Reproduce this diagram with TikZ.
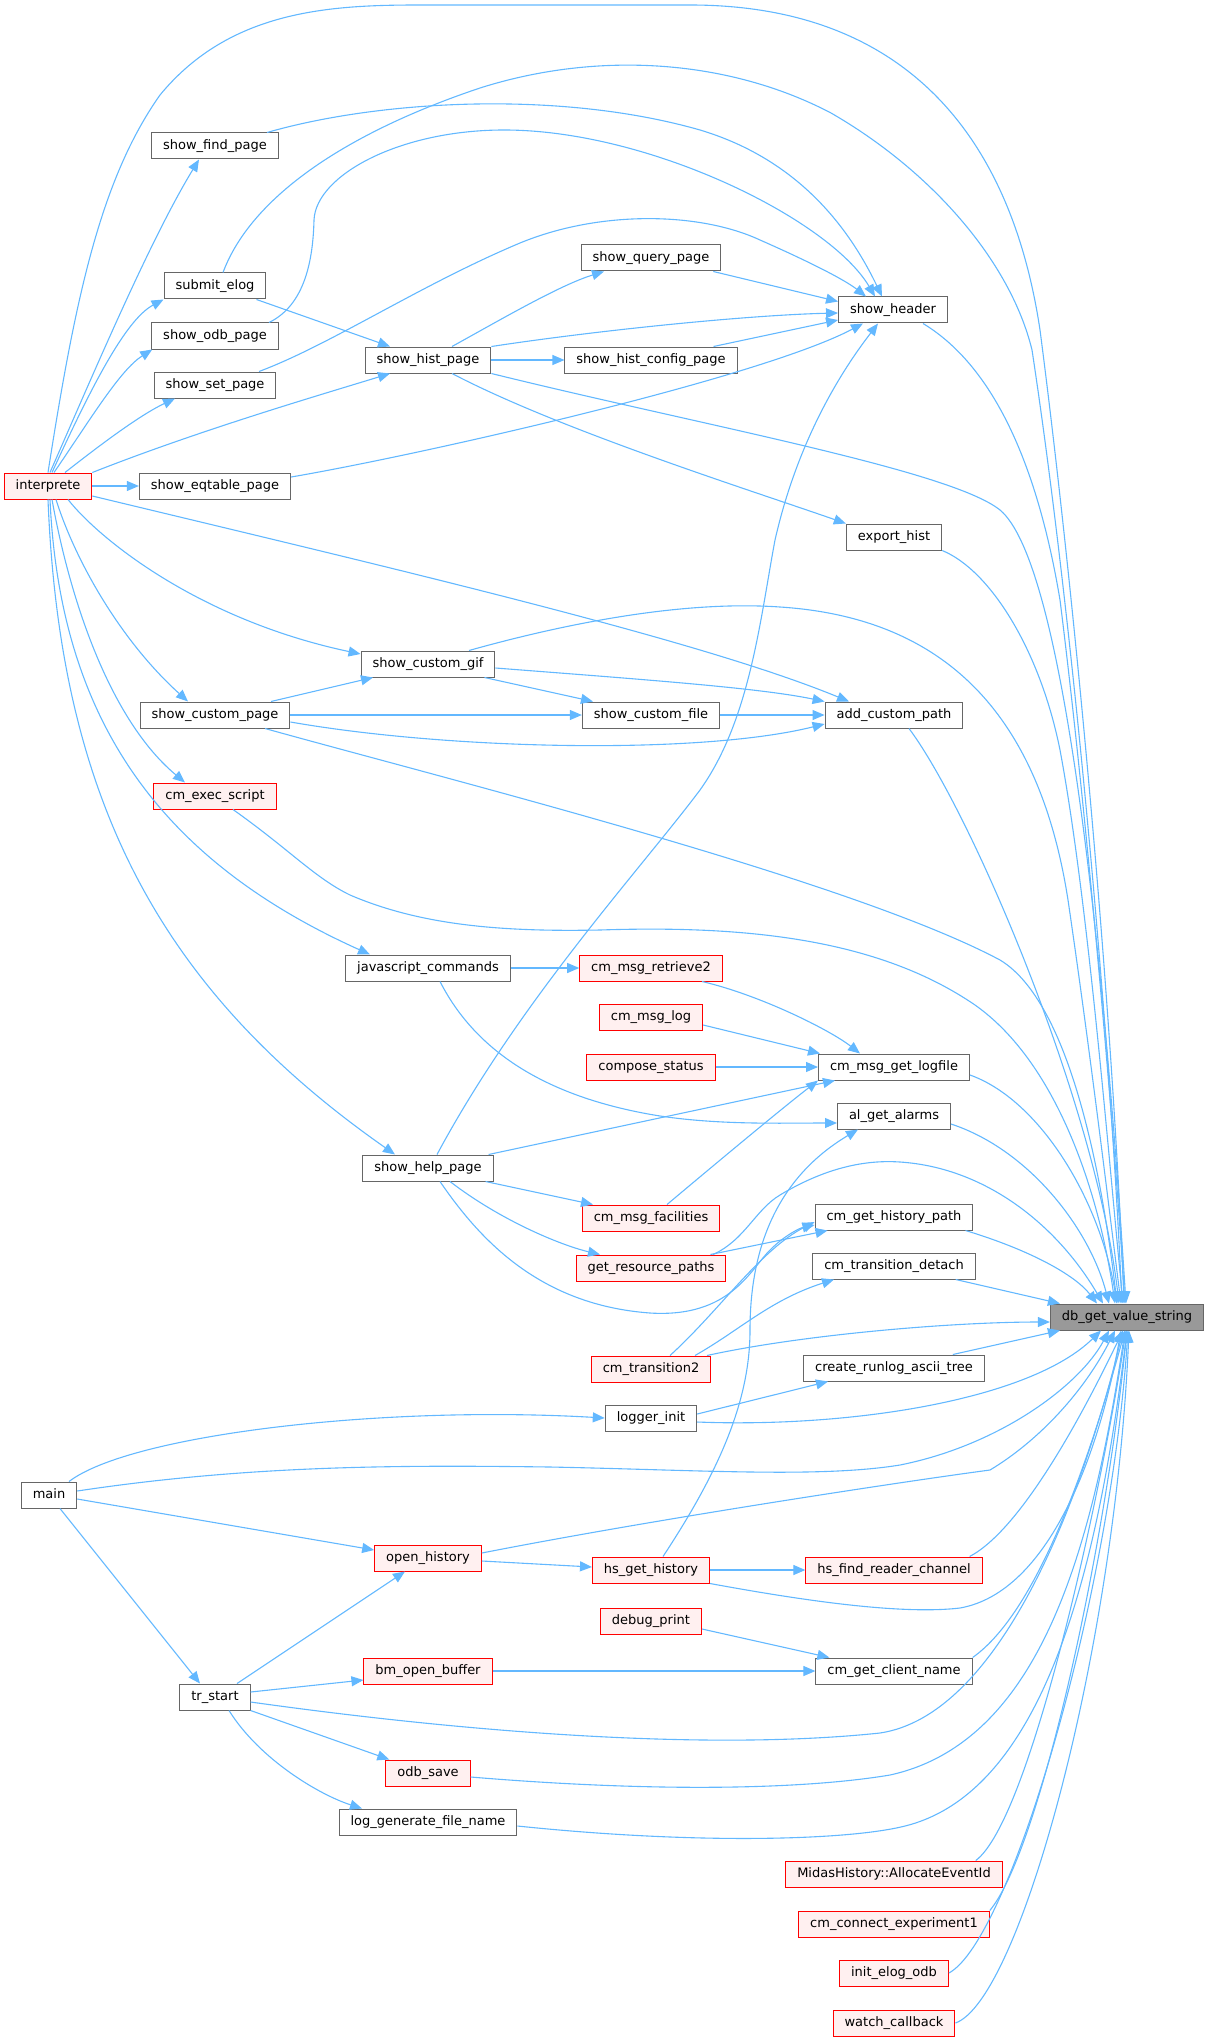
\documentclass[tikz,border=0pt]{standalone}
\usepackage{fontspec}
\setmainfont{DejaVu Sans}
\usetikzlibrary{arrows.meta}
\definecolor{EdgeBlue}{RGB}{99,184,255}
\definecolor{NodeGrey}{RGB}{102,102,102}
\definecolor{CallerRed}{RGB}{255,0,0}
\definecolor{CallerFill}{RGB}{255,240,240}
\definecolor{TargetFill}{RGB}{153,153,153}

\begin{document}
\begin{tikzpicture}[x=1pt, y=-1pt,
    fn/.style={draw=NodeGrey, fill=white, line width=1pt, font=\fontsize{13pt}{15pt}\selectfont,
               inner xsep=11.5pt, inner ysep=0pt, minimum height=26pt, text height=10pt, text depth=3pt},
    fnred/.style={fn, draw=CallerRed, fill=CallerFill},
    fntarget/.style={fn, fill=TargetFill},
    call/.style={-{Triangle[length=12pt,width=10pt]}, EdgeBlue, line width=1.1pt}]
    \useasboundingbox (0,0) rectangle (1209,2041);

    \node[fnred] (interprete) at (48,486) {interprete};
    \node[fn] (findpage) at (215,146) {show\_find\_page};
    \node[fn] (submitelog) at (215,286) {submit\_elog};
    \node[fn] (odbpage) at (215,336) {show\_odb\_page};
    \node[fn] (setpage) at (215,385) {show\_set\_page};
    \node[fn] (eqtable) at (215,486) {show\_eqtable\_page};
    \node[fn] (histpage) at (428,360) {show\_hist\_page};
    \node[fn] (querypage) at (651,258) {show\_query\_page};
    \node[fn] (histconfig) at (651,360) {show\_hist\_config\_page};
    \node[fn] (header) at (893,310) {show\_header};
    \node[fn] (exporthist) at (894,537) {export\_hist};
    \node[fn] (customgif) at (428,664) {show\_custom\_gif};
    \node[fn] (custompage) at (215,715) {show\_custom\_page};
    \node[fn] (customfile) at (651,715) {show\_custom\_file};
    \node[fn] (custompath) at (894,715) {add\_custom\_path};
    \node[fnred] (execscript) at (215,796) {cm\_exec\_script};
    \node[fn] (jscommands) at (428,968) {javascript\_commands};
    \node[fnred] (retrieve) at (651,968) {cm\_msg\_retrieve2};
    \node[fnred] (msglog) at (651,1017) {cm\_msg\_log};
    \node[fnred] (compose) at (651,1067) {compose\_status};
    \node[fn] (logfile) at (894,1067) {cm\_msg\_get\_logfile};
    \node[fn] (alarms) at (894,1116) {al\_get\_alarms};
    \node[fn] (helppage) at (428,1168) {show\_help\_page};
    \node[fnred] (facilities) at (651,1218) {cm\_msg\_facilities};
    \node[fn] (histpath) at (894,1217) {cm\_get\_history\_path};
    \node[fnred] (respaths) at (651,1268) {get\_resource\_paths};
    \node[fn] (detach) at (894,1266) {cm\_transition\_detach};
    \node[fntarget] (target) at (1127,1317) {db\_get\_value\_string};
    \node[fnred] (transition) at (651,1369) {cm\_transition2};
    \node[fn] (runlog) at (894,1368) {create\_runlog\_ascii\_tree};
    \node[fn] (loggerinit) at (651,1418) {logger\_init};
    \node[fn] (main) at (49,1495) {main};
    \node[fnred] (openhist) at (428,1558) {open\_history};
    \node[fnred] (hsget) at (651,1570) {hs\_get\_history};
    \node[fnred] (hsfind) at (894,1570) {hs\_find\_reader\_channel};
    \node[fnred] (debugprint) at (651,1621) {debug\_print};
    \node[fnred] (bmopen) at (428,1671) {bm\_open\_buffer};
    \node[fn] (clientname) at (894,1671) {cm\_get\_client\_name};
    \node[fn] (trstart) at (215,1697) {tr\_start};
    \node[fnred] (odbsave) at (428,1773) {odb\_save};
    \node[fn] (logname) at (428,1822) {log\_generate\_file\_name};
    \node[fnred] (allocate) at (894,1874) {MidasHistory::AllocateEventId};
    \node[fnred] (connect) at (894,1924) {cm\_connect\_experiment1};
    \node[fnred] (initelog) at (894,1973) {init\_elog\_odb};
    \node[fnred] (watchcb) at (894,2023) {watch\_callback};

    % callers of show_header and show_hist_page
    \draw[call] ([xshift=52pt]findpage.north) .. controls (380,100) and (560,90) .. (700,130) .. controls (800,160) and (850,230) .. ([xshift=-11pt]header.north);
    \draw[call] ([xshift=54pt]odbpage.north) .. controls (305,305) and (313,260) .. (314,220) .. controls (316,175) and (400,130) .. (504,130) .. controls (650,130) and (830,220) .. ([xshift=-18pt]header.north);
    \draw[call] ([xshift=44pt]setpage.north) .. controls (330,345) and (420,285) .. (520,243) .. controls (600,210) and (700,212) .. (760,240) .. controls (810,262) and (845,280) .. ([xshift=-27pt]header.north);
    \draw[call] ([xshift=-8pt]querypage.south east) -- ([yshift=-5pt]header.north west);
    \draw[call] ([xshift=24pt]histpage.north) .. controls (500,320) and (560,285) .. ([xshift=-47pt]querypage.south);
    \draw[call] (histpage.north east) .. controls (600,330) and (750,315) .. ([yshift=-3pt]header.west);
    \draw[call] (histpage.east) -- (histconfig.west);
    \draw[call] ([xshift=-24pt]histconfig.north east) -- ([yshift=-10pt]header.west);
    \draw[call] ([yshift=9pt]eqtable.east) .. controls (420,455) and (760,378) .. ([xshift=-30pt]header.south);
    \draw[call] ([xshift=-10pt]submitelog.south east) -- ([xshift=-38pt]histpage.north);
    \draw[call] ([xshift=24pt]histpage.south) .. controls (560,430) and (750,490) .. (exporthist.north west);

    % interprete
    \draw[call] ([xshift=2pt]interprete.north) .. controls (95,370) and (150,240) .. ([xshift=-16pt]findpage.south);
    \draw[call] ([xshift=4pt]interprete.north) .. controls (90,390) and (125,320) .. (submitelog.south west);
    \draw[call] ([xshift=6pt]interprete.north) .. controls (90,420) and (120,370) .. ([xshift=1pt]odbpage.south west);
    \draw[call] ([xshift=17pt]interprete.north) .. controls (100,445) and (140,415) .. ([xshift=-40pt]setpage.south);
    \draw[call] (interprete.north east) .. controls (200,430) and (320,395) .. ([xshift=-38pt]histpage.south);
    \draw[call] (interprete.east) -- (eqtable.west);
    \draw[call] ([yshift=-10pt]interprete.east) .. controls (400,570) and (700,640) .. ([xshift=-45pt]custompath.north);
    \draw[call] ([xshift=20pt]interprete.south) .. controls (100,540) and (200,620) .. ([yshift=10pt]customgif.west);
    \draw[call] ([xshift=8pt]interprete.south) .. controls (75,560) and (120,640) .. ([xshift=-27pt]custompage.north);
    \draw[call] ([xshift=4pt]interprete.south) .. controls (70,600) and (110,720) .. ([xshift=-30pt]execscript.north);
    \draw[call] ([xshift=2pt]interprete.south) .. controls (60,720) and (160,860) .. ([xshift=-58pt]jscommands.north);
    \draw[call] (interprete.south) .. controls (60,800) and (160,990) .. ([xshift=-33pt]helppage.north);

    % custom pages
    \draw[call] ([xshift=56pt]custompage.north) -- ([xshift=-55pt]customgif.south);
    \draw[call] (custompage.east) -- (customfile.west);
    \draw[call] ([yshift=-7pt]custompage.east) .. controls (450,750) and (700,755) .. ([yshift=-9pt]custompath.west);
    \draw[call] ([xshift=-11pt]customgif.south east) -- ([xshift=-58pt]customfile.north);
    \draw[call] ([yshift=-4pt]customgif.east) .. controls (650,680) and (760,688) .. (custompath.north west);
    \draw[call] (customfile.east) -- (custompath.west);

    % messages and history paths
    \draw[call] (jscommands.east) -- (retrieve.west);
    \draw[call] ([xshift=12pt]jscommands.south) .. controls (480,1060) and (560,1100) .. (660,1116) .. controls (720,1125) and (780,1123) .. ([yshift=-7pt]alarms.west);
    \draw[call] ([xshift=51pt]retrieve.south) .. controls (760,995) and (830,1030) .. ([xshift=-34pt]logfile.north);
    \draw[call] ([yshift=-8pt]msglog.east) -- ([xshift=2pt]logfile.north west);
    \draw[call] (compose.east) -- (logfile.west);
    \draw[call] ([xshift=-5pt]helppage.north east) -- ([xshift=17pt]logfile.south west);
    \draw[call] ([xshift=16pt]facilities.north) .. controls (720,1160) and (780,1110) .. (logfile.south west);
    \draw[call] ([xshift=9pt]helppage.north) .. controls (520,1000) and (640,870) .. (700,790) .. controls (750,720) and (760,620) .. (775,540) .. controls (800,430) and (850,360) .. ([xshift=-15pt]header.south);
    \draw[call] ([xshift=-8pt]helppage.south east) -- ([xshift=-58pt]facilities.north);
    \draw[call] ([xshift=22pt]helppage.south) .. controls (500,1220) and (560,1245) .. ([xshift=-51pt]respaths.north);
    \draw[call] ([xshift=12pt]helppage.south) .. controls (480,1240) and (540,1305) .. (650,1313) .. controls (730,1318) and (750,1270) .. (770,1250) .. controls (785,1235) and (800,1228) .. ([yshift=-8pt]histpath.west);
    \draw[call] ([xshift=-16pt]respaths.north east) -- ([xshift=13pt]histpath.south west);
    \draw[call] ([xshift=19pt]transition.north) .. controls (720,1310) and (760,1250) .. ([yshift=-5pt]histpath.west);
    \draw[call] ([xshift=44pt]transition.north) .. controls (740,1330) and (770,1300) .. ([xshift=-60pt]detach.south);
    \draw[call] ([xshift=12pt]hsget.north) .. controls (720,1470) and (750,1400) .. (750,1330) .. controls (750,1230) and (790,1170) .. ([xshift=-36pt]alarms.south);
    \draw[call] ([yshift=4pt]loggerinit.east) -- ([xshift=-66pt]runlog.south);

    % main and tr_start
    \draw[call] ([xshift=20pt]main.north) .. controls (130,1435) and (380,1405) .. (loggerinit.west);
    \draw[call] ([yshift=-4pt]main.east) -- ([yshift=8pt]openhist.west);
    \draw[call] ([xshift=11pt]main.south) -- ([xshift=-15pt]trstart.north);
    \draw[call] ([xshift=22pt]trstart.north) -- ([xshift=-23pt]openhist.south);
    \draw[call] ([yshift=-3pt]openhist.east) -- ([yshift=3pt]hsget.west);
    \draw[call] (hsget.east) -- (hsfind.west);
    \draw[call] ([yshift=-8pt]debugprint.east) -- ([xshift=14pt]clientname.north west);
    \draw[call] (bmopen.east) -- (clientname.west);
    \draw[call] ([yshift=5pt]trstart.east) -- ([yshift=-9pt]bmopen.west);
    \draw[call] (trstart.south east) -- ([xshift=4pt]odbsave.north west);
    \draw[call] ([xshift=14pt]trstart.south) .. controls (260,1760) and (320,1795) .. ([xshift=-66pt]logname.north);

    % into db_get_value_string from above
    \draw[call] (interprete.north) .. controls (75,300) and (100,180) .. (160,95) .. controls (230,10) and (330,5) .. (420,5) -- (690,5) .. controls (900,5) and (1010,130) .. (1040,330) .. controls (1075,600) and (1112,1000) .. ([xshift=-3pt]target.north);
    \draw[call] ([xshift=8pt]submitelog.north) .. controls (250,200) and (340,135) .. (480,88) .. controls (600,50) and (730,60) .. (831,113) .. controls (930,170) and (1010,260) .. (1032,350) .. controls (1070,600) and (1108,1000) .. ([xshift=-5pt]target.north);
    \draw[call] (histpage.south east) .. controls (700,425) and (950,470) .. (1000,510) .. controls (1060,560) and (1100,900) .. ([xshift=-1pt]target.north);
    \draw[call] ([xshift=30pt]header.south) .. controls (1000,370) and (1040,480) .. (1060,600) .. controls (1085,800) and (1112,1100) .. ([xshift=-2pt]target.north);
    \draw[call] (exporthist.south east) .. controls (990,570) and (1040,650) .. (1060,750) .. controls (1088,900) and (1108,1150) .. ([xshift=-4pt]target.north);
    \draw[call] ([xshift=15pt]custompath.south) .. controls (970,810) and (1095,1100) .. ([xshift=-8pt]target.north);
    \draw[call] ([xshift=41pt]customgif.north) .. controls (560,625) and (680,600) .. (780,607) .. controls (950,618) and (1040,720) .. (1068,900) .. controls (1090,1050) and (1108,1200) .. ([xshift=-6pt]target.north);
    \draw[call] ([xshift=50pt]custompage.south) .. controls (450,780) and (850,880) .. (1000,960) .. controls (1075,1005) and (1105,1200) .. ([xshift=-10pt]target.north);
    \draw[call] ([xshift=18pt]execscript.south) .. controls (290,850) and (315,878) .. (350,895) .. controls (420,925) and (500,932) .. (600,930) .. controls (750,925) and (880,940) .. (975,1005) .. controls (1060,1065) and (1100,1200) .. ([xshift=-12pt]target.north);
    \draw[call] ([yshift=-8pt]logfile.east) .. controls (1040,1100) and (1100,1200) .. ([xshift=-10pt]target.north);
    \draw[call] ([yshift=-8pt]alarms.east) .. controls (1030,1150) and (1090,1230) .. ([xshift=-18pt]target.north);
    \draw[call] ([xshift=-8pt]histpath.south east) .. controls (1030,1250) and (1075,1275) .. ([xshift=-30pt]target.north);
    \draw[call] ([xshift=62pt]respaths.north) .. controls (745,1240) and (755,1210) .. (780,1195) .. controls (830,1165) and (870,1160) .. (900,1162) .. controls (990,1168) and (1060,1230) .. ([xshift=-24pt]target.north);

    % into db_get_value_string from the left and below
    \draw[call] ([xshift=-20pt]detach.south east) -- ([xshift=10pt]target.north west);
    \draw[call] ([xshift=56pt]transition.north) .. controls (800,1335) and (950,1322) .. ([yshift=-5pt]target.west);
    \draw[call] ([xshift=-32pt]runlog.north east) -- ([xshift=10pt]target.south west);
    \draw[call] ([yshift=-4pt]loggerinit.east) .. controls (850,1428) and (1030,1400) .. ([xshift=-26pt]target.south);
    \draw[call] ([yshift=4pt]main.east) .. controls (250,1465) and (400,1465) .. (550,1467) .. controls (700,1470) and (820,1478) .. (900,1465) .. controls (1000,1445) and (1080,1385) .. ([xshift=-18pt]target.south);
    \draw[call] ([yshift=5pt]openhist.east) .. controls (650,1520) and (900,1482) .. (990,1470) .. controls (1040,1440) and (1085,1390) .. ([xshift=-12pt]target.south);
    \draw[call] (hsget.south east) .. controls (800,1600) and (900,1615) .. (960,1608) .. controls (1050,1592) and (1100,1450) .. ([xshift=-6pt]target.south);
    \draw[call] ([xshift=-13pt]hsfind.north east) .. controls (1020,1530) and (1080,1420) .. ([xshift=-4pt]target.south);
    \draw[call] (clientname.north east) .. controls (1040,1610) and (1092,1450) .. ([xshift=-2pt]target.south);
    \draw[call] ([yshift=-5pt]trstart.east) .. controls (450,1730) and (700,1752) .. (880,1733) .. controls (1000,1715) and (1082,1500) .. ([xshift=-4pt]target.south);
    \draw[call] ([yshift=-4pt]odbsave.east) .. controls (650,1792) and (800,1790) .. (890,1775) .. controls (1040,1742) and (1092,1550) .. ([xshift=-2pt]target.south);
    \draw[call] ([yshift=-4pt]logname.east) .. controls (700,1845) and (850,1840) .. (905,1826) .. controls (1050,1790) and (1100,1550) .. (target.south);
    \draw[call] ([xshift=-27pt]allocate.north east) .. controls (1030,1820) and (1100,1500) .. ([xshift=-1pt]target.south);
    \draw[call] (connect.north east) .. controls (1040,1850) and (1105,1550) .. (target.south);
    \draw[call] (initelog.east) .. controls (1010,1940) and (1110,1600) .. ([xshift=1pt]target.south);
    \draw[call] (watchcb.east) .. controls (1020,2000) and (1115,1650) .. ([xshift=2pt]target.south);
\end{tikzpicture}
\end{document}
